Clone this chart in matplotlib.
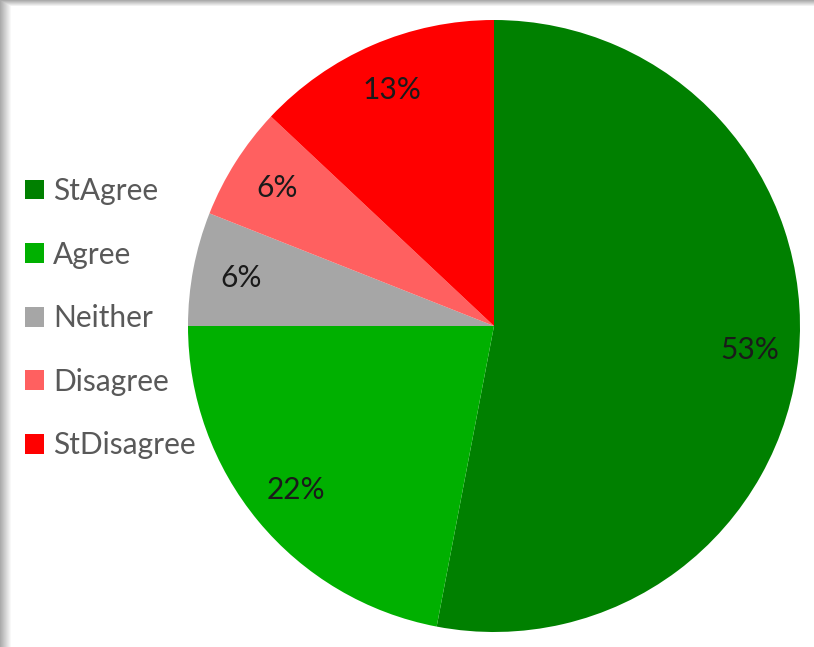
import numpy as np
import matplotlib
matplotlib.use("Agg")
import matplotlib.pyplot as plt
from matplotlib.patches import Patch

labels = ["StAgree", "Agree", "Neither", "Disagree", "StDisagree"]
values = [53, 22, 6, 6, 13]
colors = ["#008000", "#00B000", "#A6A6A6", "#FF6060", "#FF0000"]

W, H = 814, 647
fig = plt.figure(figsize=(W / 100, H / 100), dpi=100)
fig.patch.set_facecolor("white")

# background frame shadow (left and top gray gradient)
bg = fig.add_axes([0, 0, 1, 1], zorder=-10)
xs = np.arange(W)
ys = np.arange(H)
left = np.clip(1 - xs / 11.0, 0, 1)
top = np.clip(1 - ys / 6.0, 0, 1)
shade = np.maximum(left[None, :], top[:, None])
img = 1 - 0.33 * shade
bg.imshow(img, cmap="gray", vmin=0, vmax=1, extent=[0, W, H, 0], aspect="auto",
          interpolation="bilinear")
bg.set_axis_off()

cx, cy, r = 494, 326, 306
ax = fig.add_axes([(cx - r) / W, (H - cy - r) / H, 2 * r / W, 2 * r / H])
wedges, texts, autotexts = ax.pie(
    values, colors=colors, startangle=90, counterclock=False,
    autopct=lambda p: f"{p:.0f}%", pctdistance=0.84,
    wedgeprops=dict(linewidth=0),
    textprops=dict(fontsize=21.5, color="#1a1a1a", family=["Lato", "DejaVu Sans"]),
)
ax.set_xlim(-1, 1)
ax.set_ylim(-1, 1)
ax.set_aspect("equal")

handles = [Patch(facecolor=c, edgecolor="none") for c in colors]
leg = fig.legend(handles, labels, loc="upper left",
                 bbox_to_anchor=(25 / W, 1 - 177 / H), frameon=False,
                 prop=dict(family=["Lato", "DejaVu Sans"], size=21.5),
                 handlelength=0.65, handleheight=0.65, handletextpad=0.28,
                 labelspacing=1.19, borderaxespad=0, borderpad=0)
for t in leg.get_texts():
    t.set_color("#595959")

fig.savefig("out.png", dpi=100)
